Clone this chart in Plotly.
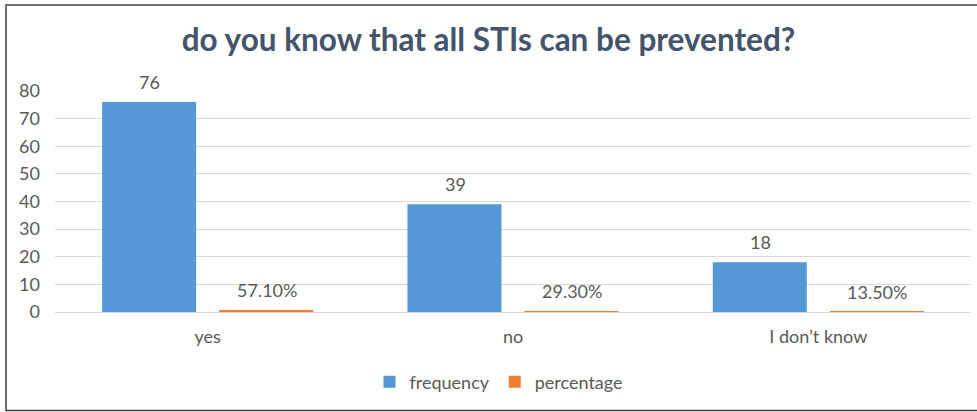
import plotly.graph_objects as go

categories = ["yes", "no", "I don\u2019t know"]
frequency = [76, 39, 18]
percentage = [0.571, 0.293, 0.135]
percentage_labels = ["57.10%", "29.30%", "13.50%"]
y_ticks = [0, 10, 20, 30, 40, 50, 60, 70, 80]

TXT = "#595959"
FONT = "Lato, Open Sans, sans-serif"
FS = 18

fig = go.Figure()
fig.add_trace(go.Bar(x=categories, y=frequency, name="frequency",
                     marker=dict(color="#5698d6", line=dict(width=0))))
fig.add_trace(go.Bar(x=categories, y=percentage, name="percentage",
                     marker=dict(color="#ed7d31", line=dict(width=0))))

annotations = []
for c, v in zip(categories, frequency):
    annotations.append(dict(x=c, y=v, xref="x", yref="y", text=str(v), showarrow=False,
                            xshift=-58, yshift=20, yanchor="middle",
                            font=dict(size=FS, color=TXT, family=FONT)))
for c, v, t in zip(categories, percentage, percentage_labels):
    annotations.append(dict(x=c, y=v, xref="x", yref="y", text=t, showarrow=False,
                            xshift=59, yshift=20, yanchor="middle",
                            font=dict(size=FS, color=TXT, family=FONT)))

L, R, T, B = 55, 6, 91, 100
W, H = 977, 412
pw, ph = W - L - R, H - T - B
def px2x(p):
    return (p - L) / pw
def py2y(p):
    return (H - B - p) / ph

fig.update_layout(
    width=W, height=H,
    margin=dict(l=L, r=R, t=T, b=B),
    paper_bgcolor="white", plot_bgcolor="white",
    barmode="group", bargap=0.233, bargroupgap=0.197,
    font=dict(family=FONT, color=TXT, size=FS),
    title=dict(text="<b>do you know that all STIs can be prevented?</b>",
               x=0.5, xanchor="center", y=1 - 40 / H, yanchor="middle",
               font=dict(size=31.5, color="#44546a", family=FONT)),
    xaxis=dict(showgrid=False, showline=False, zeroline=False, ticks="",
               tickfont=dict(size=FS, color=TXT), ticklabelstandoff=12),
    yaxis=dict(range=[0, 80], tickvals=y_ticks, showgrid=True, gridcolor="#d9d9d9",
               gridwidth=1, zeroline=True, zerolinecolor="#d9d9d9", zerolinewidth=1,
               showline=False, ticks="", tickfont=dict(size=FS, color=TXT),
               ticklabelstandoff=14),
    legend=dict(orientation="h", x=px2x(499), xanchor="center", y=py2y(382),
                yanchor="middle", font=dict(size=FS, color=TXT, family=FONT),
                bgcolor="rgba(0,0,0,0)", itemwidth=30),
    annotations=annotations,
    shapes=[dict(type="rect", xref="paper", yref="paper",
                 x0=px2x(6), x1=px2x(978), y0=py2y(410.5), y1=py2y(5),
                 line=dict(color="#404040", width=1.5), fillcolor="rgba(0,0,0,0)",
                 layer="above")],
)

fig.write_html("out.html", config={"displayModeBar": False},
               post_script="document.body.style.margin='0';document.body.style.overflow='hidden';")
